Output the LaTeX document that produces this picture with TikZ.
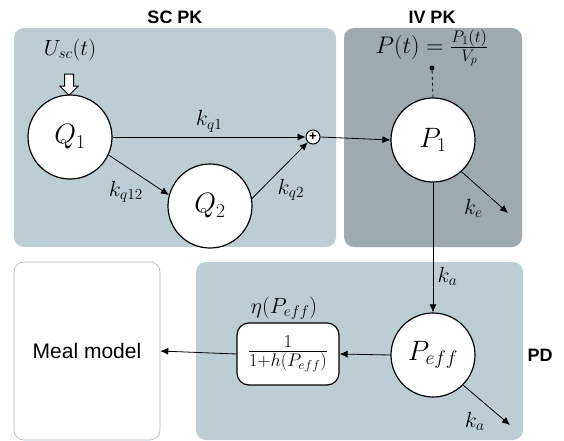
\RequirePackage{fix-cm}
\documentclass[tikz,border=0pt]{standalone}
\usepackage{fontspec}
\setsansfont{Liberation Sans}
\usetikzlibrary{shapes,arrows.meta,positioning,calc}

\definecolor{scblue}{RGB}{189,205,212}
\definecolor{ivgrey}{RGB}{158,170,176}
\definecolor{mealgrey}{RGB}{172,182,188}

\begin{document}
\begin{tikzpicture}[
    x=1pt, y=-1pt,
    panel/.style={rectangle, rounded corners=10pt, draw=none},
    scpanel/.style={panel, fill=scblue},
    ivpanel/.style={panel, fill=ivgrey},
    mealpanel/.style={panel, draw=mealgrey, fill=white, line width=0.6pt, font=\sffamily\fontsize{21}{24}\selectfont},
    comp/.style={circle, draw, line width=1.2pt, fill=white, minimum size=84pt, inner sep=0pt, font=\fontsize{28}{32}\selectfont},
    sumnode/.style={circle, draw, line width=1pt, fill=white, minimum size=14pt, inner sep=0pt, font=\sffamily\bfseries\fontsize{13}{13}\selectfont},
    gainbox/.style={rectangle, draw, line width=1.2pt, rounded corners=12pt, fill=white, minimum width=102pt, minimum height=62pt, font=\fontsize{26}{30}\selectfont},
    title/.style={font=\sffamily\bfseries\fontsize{18}{20}\selectfont},
    rate/.style={font=\fontsize{22}{26}\selectfont},
    inputarrow/.style={single arrow, draw, line width=1pt, fill=white, inner sep=4pt, minimum height=21pt, single arrow head extend=4.5pt, single arrow head indent=0pt, rotate=-90},
    arrow/.style={-{Latex[length=8pt,width=7pt]}, line width=0.8pt}
]
\useasboundingbox (0,0) rectangle (564,441);

% Panels
\node[scpanel, minimum width=322pt, minimum height=219pt] (scbox) at (175,137.5) {};
\node[ivpanel, minimum width=178pt, minimum height=219pt] (ivbox) at (433,137.5) {};
\node[scpanel, minimum width=327pt, minimum height=178pt] (pdbox) at (359.5,351) {};
\node[mealpanel, minimum width=146pt, minimum height=178pt] (meal) at (87,351) {Meal model};

% Panel titles
\node[title] at (175,17) {SC PK};
\node[title] at (432,17) {IV PK};
\node[title] at (540,355) {PD};

% Compartments
\node[comp] (q1) at (70,137) {$Q_1$};
\node[comp] (q2) at (210,206) {$Q_2$};
\node[comp] (p1) at (433,140) {$P_1$};
\node[comp] (peff) at (433,355) {$P_{eff}$};
\node[sumnode] (sum) at (313,137) {+};

% Input and output of plasma concentration
\node[rate] (usc) at (70,50) {$U_{sc}(t)$};
\node[inputarrow] (uarrow) at (69,82.5) {};
\node[rate, font=\fontsize{24}{28}\selectfont] (pt) at (432,48) {$P(t)=\frac{P_1(t)}{V_p}$};
\node[circle, fill, inner sep=0pt, minimum size=5pt] (pdot) at (432,68) {};
\draw[dashed, line width=0.8pt] (pdot) -- (p1.north);

% Effect box
\node[gainbox] (eta) at (288,354) {$\frac{1}{1+h(P_{eff})}$};
\node[rate] at (284,308) {$\eta(P_{eff})$};

% Free ends
\coordinate (keend) at (508,213);
\coordinate (kaend) at (510,425);

% Arrows
\draw[arrow] (q1.east) -- (sum.west) node[rate, midway, above=1pt] {$k_{q1}$};
\draw[arrow] (q1.-25) -- (q2.165) node[rate, midway, below left=2pt and -8pt] {$k_{q12}$};
\draw[arrow] (q2.10) -- (sum.225) node[rate, midway, below right=5pt and -6pt] {$k_{q2}$};
\draw[arrow] (sum.east) -- (p1.west);
\draw[arrow] (p1.-48) -- (keend) node[rate, pos=0.45, below left=5pt and -4pt] {$k_e$};
\draw[arrow] (p1.south) -- (peff.north) node[rate, pos=0.72, right=1pt] {$k_a$};
\draw[arrow] (peff.-45) -- (kaend) node[rate, pos=0.45, below left=5pt and -4pt] {$k_a$};
\draw[arrow] (peff.west) -- (eta.east);
\draw[arrow] (eta.west) -- (meal.east);

\end{tikzpicture}
\end{document}
